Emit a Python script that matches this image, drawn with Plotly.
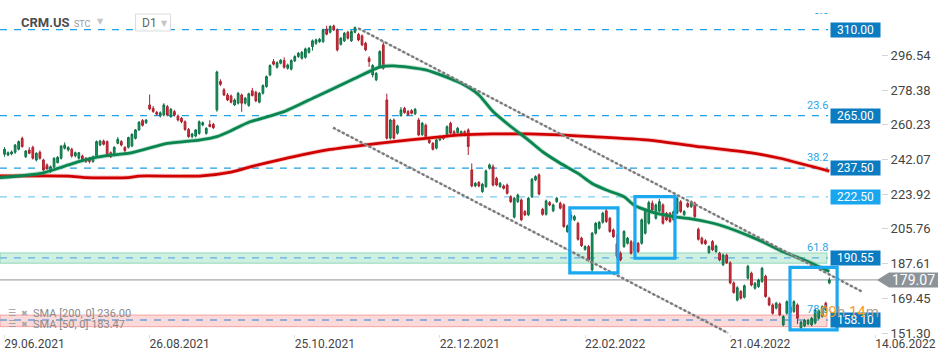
import plotly.graph_objects as go

# ------------------------------------------------------------------ data
bar_open = [
    244.8, 244.4, 245.0, 245.8, 247.4, 253.1, 243.5, 247.0, 248.4, 241.8,
    245.8, 241.8, 239.2, 235.7, 238.0, 240.4, 242.7, 247.9, 247.0, 247.4,
    243.9, 242.7, 243.9, 242.7, 242.7, 241.0, 243.5, 249.6, 251.7, 251.4,
    245.6, 244.4, 250.5, 251.4, 248.4, 248.4, 249.1, 253.1, 257.5, 262.4,
    261.3, 270.6, 268.8, 266.7, 264.8, 265.3, 269.7, 264.5, 267.1, 264.8,
    263.6, 261.8, 257.8, 254.0, 254.3, 255.7, 260.1, 255.7, 260.4, 260.4,
    268.0, 282.8, 278.5, 275.8, 275.3, 270.6, 271.5, 275.8, 271.5, 270.3,
    278.0, 277.2, 272.0, 276.7, 280.2, 286.3, 293.3, 290.3, 292.4, 293.8,
    289.8, 289.3, 293.6, 295.9, 295.0, 295.5, 298.1, 301.1, 302.8, 303.7,
    303.7, 310.3, 308.6, 311.9, 309.8, 302.3, 304.1, 308.6, 304.1, 308.6,
    307.5, 306.7, 302.8, 295.0, 286.3, 283.7, 290.6, 302.0, 273.2, 253.2,
    262.7, 255.8, 265.0, 268.8, 267.1, 267.6, 265.9, 262.7, 255.0, 260.0,
    252.3, 250.5, 248.0, 252.3, 254.0, 254.9, 261.0, 256.6, 256.1, 254.9,
    256.6, 257.5, 236.6, 228.2, 230.0, 225.3, 227.9, 237.5, 238.3, 232.2,
    227.9, 228.2, 228.7, 222.6, 211.9, 220.0, 220.9, 214.8, 213.1, 222.6,
    231.4, 234.0, 216.0, 213.4, 219.5, 215.2, 220.0, 219.2, 218.3, 204.4,
    210.8, 210.5, 208.7, 200.9, 195.0, 196.5, 184.3, 203.5, 206.1, 209.2,
    215.2, 211.3, 205.2, 198.0, 193.0, 196.5, 198.2, 199.0, 194.0, 198.2,
    198.2, 203.5, 208.7, 219.2, 211.3, 215.0, 218.3, 213.9, 213.9, 210.5,
    214.0, 220.0, 213.2, 219.0, 217.4, 219.2, 205.6, 200.9, 199.6, 193.4,
    199.1, 193.9, 193.0, 187.0, 192.0, 188.0, 177.5, 168.5, 173.0, 170.0,
    180.0, 182.6, 174.7, 175.6, 178.2, 181.0, 169.5, 166.0, 164.3, 166.5,
    155.5, 161.6, 165.0, 162.5, 166.0, 154.0, 155.0, 156.0, 155.5, 156.5,
    159.0, 160.0, 166.9, 177.5,
]
bar_high = [
    248.5, 246.3, 246.8, 250.2, 252.0, 254.0, 247.0, 248.5, 249.3, 245.8,
    246.8, 242.5, 240.0, 238.9, 243.2, 243.8, 249.5, 251.0, 248.9, 248.2,
    246.2, 246.0, 244.6, 243.3, 243.4, 244.2, 252.0, 252.4, 252.5, 252.0,
    246.3, 249.0, 253.8, 252.2, 249.0, 254.0, 255.8, 258.0, 262.2, 263.2,
    263.2, 276.0, 270.0, 267.5, 267.2, 271.5, 270.6, 269.0, 268.0, 265.6,
    264.3, 262.5, 258.5, 256.0, 258.0, 262.5, 262.0, 258.9, 262.6, 261.2,
    288.5, 284.0, 279.4, 276.8, 276.0, 274.0, 277.4, 276.5, 274.8, 277.0,
    279.5, 278.0, 277.4, 281.4, 286.0, 291.8, 294.6, 293.4, 294.6, 295.5,
    292.2, 294.5, 296.6, 298.3, 298.8, 300.6, 300.9, 304.8, 305.3, 305.6,
    310.5, 312.0, 312.3, 312.6, 310.6, 306.2, 308.8, 309.4, 309.7, 311.7,
    308.3, 307.5, 303.6, 296.0, 291.9, 287.8, 299.2, 303.5, 276.5, 263.4,
    263.5, 260.3, 269.5, 269.6, 268.0, 268.4, 269.0, 263.8, 261.7, 260.8,
    253.0, 251.2, 253.0, 254.7, 254.8, 259.9, 261.8, 257.4, 259.1, 257.3,
    257.3, 258.3, 240.0, 230.3, 230.8, 229.8, 236.8, 240.0, 239.5, 233.0,
    230.3, 229.0, 229.5, 223.4, 222.5, 224.2, 221.7, 215.6, 222.5, 232.4,
    233.8, 234.8, 216.8, 221.1, 220.3, 219.0, 222.5, 220.0, 219.1, 208.0,
    214.7, 213.0, 209.5, 201.7, 197.2, 197.3, 204.2, 209.4, 209.9, 214.7,
    216.5, 212.0, 206.0, 203.0, 194.0, 205.1, 201.6, 200.0, 199.7, 199.0,
    211.2, 216.4, 220.5, 220.6, 219.0, 221.5, 219.1, 214.6, 214.6, 215.5,
    222.5, 220.8, 215.6, 219.8, 220.7, 220.0, 206.4, 201.7, 200.4, 197.2,
    199.9, 197.5, 193.8, 192.8, 192.8, 188.8, 178.3, 175.8, 173.8, 176.7,
    187.0, 183.4, 178.0, 179.7, 185.9, 181.8, 170.3, 166.8, 167.6, 167.3,
    160.6, 168.4, 165.8, 168.4, 166.8, 157.7, 158.7, 158.7, 159.7, 164.1,
    163.7, 165.8, 167.7, 180.3,
]
bar_low = [
    243.5, 243.8, 244.2, 245.0, 246.8, 248.2, 242.8, 244.8, 242.0, 241.0,
    242.0, 235.8, 236.5, 235.0, 237.5, 240.0, 242.0, 247.3, 246.2, 243.0,
    243.2, 242.0, 241.2, 240.2, 240.0, 240.3, 243.0, 249.0, 249.4, 243.6,
    242.8, 243.8, 250.0, 248.9, 245.5, 247.8, 248.5, 252.5, 257.0, 259.3,
    260.6, 267.8, 266.5, 265.0, 264.0, 264.6, 264.6, 263.8, 264.6, 262.0,
    261.0, 257.0, 253.4, 253.2, 253.6, 255.0, 259.4, 255.0, 259.0, 258.0,
    267.0, 280.5, 275.2, 272.6, 271.4, 270.0, 270.8, 267.0, 270.8, 269.6,
    275.0, 272.0, 271.4, 276.0, 279.6, 285.6, 291.2, 289.6, 291.8, 289.5,
    289.0, 288.6, 293.0, 295.2, 294.3, 294.8, 297.4, 299.0, 302.0, 303.0,
    303.0, 307.0, 308.0, 309.2, 298.5, 301.6, 303.5, 304.8, 303.5, 308.0,
    303.9, 301.3, 298.7, 290.5, 285.0, 283.0, 289.9, 289.0, 252.5, 252.5,
    252.6, 255.0, 264.4, 266.0, 264.8, 265.6, 265.2, 254.2, 254.4, 253.4,
    250.2, 246.8, 247.3, 251.6, 252.3, 254.2, 255.1, 254.2, 255.4, 254.2,
    254.2, 244.4, 227.5, 227.5, 227.5, 224.6, 227.2, 236.8, 228.0, 228.0,
    227.2, 226.3, 223.7, 219.3, 211.2, 219.3, 209.8, 212.4, 212.4, 221.9,
    230.7, 223.3, 212.7, 212.7, 217.6, 214.5, 219.3, 215.9, 206.3, 203.7,
    209.8, 209.8, 199.6, 196.3, 194.3, 188.6, 183.0, 202.8, 205.4, 208.5,
    208.9, 203.7, 201.0, 190.6, 188.8, 195.8, 197.5, 192.3, 193.3, 193.2,
    197.5, 202.8, 208.0, 215.0, 210.6, 214.3, 208.0, 209.8, 208.9, 209.8,
    213.3, 214.1, 212.5, 216.7, 216.7, 211.5, 199.6, 197.5, 197.3, 192.7,
    194.1, 193.2, 188.8, 186.3, 187.4, 176.8, 171.8, 167.8, 168.8, 169.3,
    179.3, 175.7, 174.0, 174.9, 177.5, 169.7, 165.3, 160.9, 163.6, 160.1,
    154.8, 160.9, 161.3, 161.8, 156.0, 152.6, 154.3, 155.3, 154.8, 155.8,
    158.3, 159.3, 162.7, 176.8,
]
bar_close = [
    247.4, 245.6, 246.0, 249.6, 251.4, 248.8, 246.5, 245.3, 242.7, 245.3,
    242.7, 236.6, 237.4, 238.3, 242.7, 243.2, 249.1, 249.6, 248.4, 243.9,
    245.6, 245.6, 241.8, 241.0, 241.0, 243.5, 251.4, 251.7, 250.0, 244.4,
    243.5, 248.4, 252.6, 249.6, 246.7, 253.5, 255.2, 257.5, 261.5, 259.9,
    262.7, 268.5, 267.1, 265.7, 266.5, 270.6, 265.3, 268.3, 265.3, 262.7,
    261.8, 257.8, 254.0, 255.4, 257.5, 261.8, 261.3, 258.4, 259.2, 258.7,
    287.8, 281.4, 275.8, 273.2, 272.0, 273.2, 276.7, 271.5, 274.1, 276.4,
    275.5, 272.7, 276.7, 280.7, 285.4, 291.2, 291.9, 292.7, 294.0, 290.3,
    291.5, 293.8, 295.9, 297.6, 298.1, 299.9, 300.2, 304.1, 304.6, 304.9,
    309.8, 307.6, 311.6, 309.8, 299.4, 305.5, 308.1, 305.5, 309.0, 311.0,
    304.6, 302.0, 299.4, 293.3, 291.2, 287.1, 298.5, 289.8, 253.2, 262.7,
    253.2, 259.6, 268.0, 266.6, 265.4, 266.2, 268.3, 254.9, 261.0, 254.0,
    250.9, 247.4, 252.3, 254.0, 253.0, 259.2, 255.8, 254.9, 258.4, 256.6,
    254.9, 248.8, 228.2, 229.6, 228.2, 229.1, 236.1, 239.2, 228.7, 228.7,
    229.6, 227.0, 224.4, 220.0, 221.8, 223.5, 210.5, 213.1, 221.8, 231.7,
    233.1, 224.0, 213.4, 220.4, 218.3, 218.3, 221.8, 216.6, 207.0, 207.3,
    213.0, 212.2, 200.3, 197.0, 196.5, 189.5, 203.5, 208.7, 209.2, 214.0,
    209.6, 204.4, 201.7, 191.5, 189.5, 204.4, 200.9, 193.0, 199.0, 193.9,
    210.5, 215.7, 219.5, 215.7, 218.3, 220.0, 208.7, 210.5, 209.6, 214.8,
    221.8, 214.8, 214.8, 217.4, 220.0, 212.2, 200.3, 198.2, 198.0, 196.5,
    194.8, 196.8, 189.5, 192.1, 188.0, 177.5, 172.5, 175.0, 169.5, 176.0,
    186.2, 176.4, 177.3, 179.0, 185.2, 170.4, 166.0, 161.6, 166.9, 160.8,
    159.9, 167.7, 162.0, 167.7, 159.0, 157.0, 158.0, 158.0, 159.0, 163.4,
    163.0, 165.0, 163.4, 179.07,
]

x_tick_index = [0, 41, 82, 123, 164, 205, 246]
x_tick_text = ["29.06.2021", "26.08.2021", "25.10.2021", "22.12.2021",
               "22.02.2022", "21.04.2022", "14.06.2022"]
y_tick_vals = [151.30, 169.45, 187.61, 205.76, 223.92, 242.07, 260.23, 278.38, 296.54]

sma50_idx = [-2, 11, 18, 21, 27, 36, 46, 55, 60, 64, 69, 79, 88, 98, 106, 110,
             119, 129, 134, 138, 143, 148, 152, 157, 162, 166, 170, 175, 178,
             184, 189, 194, 202, 213, 220, 227, 233]
sma50_val = [232.4, 235.1, 239.2, 240.9, 243.5, 245.6, 250.5, 252.2, 254.0,
             257.1, 261.5, 267.1, 274.9, 283.6, 290.4, 291.0, 288.9, 281.9,
             275.8, 267.1, 259.3, 252.2, 246.1, 240.1, 234.8, 229.5, 226.1,
             222.6, 218.0, 214.0, 212.2, 211.0, 207.8, 200.0, 193.8, 188.6, 183.47]

sma200_idx = [-2, 18, 23, 35, 38, 55, 64, 70, 78, 84, 92, 100, 110, 119, 129,
              138, 148, 157, 166, 182, 197, 211, 219, 233]
sma200_val = [233.4, 233.4, 232.6, 232.6, 233.4, 233.4, 235.5, 238.5, 242.0,
              244.5, 247.3, 249.2, 251.4, 253.1, 254.9, 255.4, 255.4, 254.9,
              254.0, 252.2, 248.6, 245.5, 242.7, 236.0]

fib_levels = [310.00, 265.00, 237.50, 222.50, 190.55, 158.10]
fib_labels = ["0.0", "23.6", "38.2", "", "61.8", "78.6"]
last_price = 179.07
sma200_last = 236.00
sma50_last = 183.47

zone_green = [187.8, 193.2]
zone_red = [154.6, 160.7]

channel_upper_idx = [99.9, 242.2]
channel_upper_val = [310.7, 173.0]
channel_lower_idx = [92.8, 204.4]
channel_lower_val = [258.7, 151.3]

# cyan highlight boxes: (start bar, end bar, low, high)
box_x0 = [159.7, 178.1, 221.9]
box_x1 = [173.3, 189.4, 235.2]
box_lo = [182.8, 190.4, 152.9]
box_hi = [216.7, 222.6, 185.6]

# ------------------------------------------------------------------ layout geometry
W, H = 949, 359
ML, MR, MT, MB = 0, 68, 13, 25
PW, PH = W - ML - MR, H - MT - MB
X_RANGE = [-1.27, 247.6]
Y_RANGE = [150.78, 318.67]
PX_PER_PRICE = PH / (Y_RANGE[1] - Y_RANGE[0])
FONT = "Roboto"


def pxx(px):
    return px / PW


def pyy(py):
    return (MT + PH - py) / PH


def price_at(py):
    return Y_RANGE[1] - (py - MT) / PX_PER_PRICE


fig = go.Figure()

# candles
fig.add_trace(go.Candlestick(
    x=list(range(len(bar_open))), open=bar_open, high=bar_high, low=bar_low, close=bar_close,
    increasing=dict(line=dict(color="#0d7046", width=1), fillcolor="#1b9a62"),
    decreasing=dict(line=dict(color="#a81f2b", width=1), fillcolor="#dc2e3d"),
    whiskerwidth=0, hoverinfo="skip", showlegend=False,
))

# SMA lines (glow + core)
for idx, val, glow, core in [(sma200_idx, sma200_val, "rgba(230,90,90,0.35)", "#d10000"),
                             (sma50_idx, sma50_val, "rgba(60,170,120,0.35)", "#0a8550")]:
    fig.add_trace(go.Scatter(x=idx, y=val, mode="lines", hoverinfo="skip", showlegend=False,
                             line=dict(color=glow, width=4.5, shape="spline", smoothing=0.6)))
    fig.add_trace(go.Scatter(x=idx, y=val, mode="lines", hoverinfo="skip", showlegend=False,
                             line=dict(color=core, width=2.8, shape="spline", smoothing=0.6)))

# channel lines
for idx, val in [(channel_upper_idx, channel_upper_val), (channel_lower_idx, channel_lower_val)]:
    fig.add_trace(go.Scatter(x=idx, y=val, mode="lines", hoverinfo="skip", showlegend=False,
                             line=dict(color="rgba(190,190,190,0.9)", width=1.2)))
    fig.add_trace(go.Scatter(x=idx, y=val, mode="lines", hoverinfo="skip", showlegend=False,
                             line=dict(color="#7a7a7a", width=2.4, dash="3px,2px")))

# partially clipped "0.0" fib label at top
fig.add_trace(go.Scatter(x=[232.9], y=[price_at(11.5)], mode="text", text=["0.0"],
                         textposition="middle left", hoverinfo="skip", showlegend=False,
                         textfont=dict(family=FONT, size=11, color="#2aa6e8")))

shapes = []
# zones
shapes.append(dict(type="rect", xref="paper", yref="y", x0=0, x1=pxx(827), y0=zone_green[0],
                   y1=zone_green[1], fillcolor="rgba(70,195,140,0.26)",
                   line=dict(color="rgba(70,190,135,0.5)", width=1), layer="below"))
shapes.append(dict(type="rect", xref="paper", yref="y", x0=0, x1=pxx(827), y0=zone_red[0],
                   y1=zone_red[1], fillcolor="rgba(242,120,120,0.28)",
                   line=dict(color="rgba(235,110,110,0.55)", width=1), layer="below"))
# fib lines
fib_line_colors = ["#1f9fe6", "#1f9fe6", "#1f9fe6", "#7ccbf2", "#5fb0e2", "#6f9fd8"]
for lvl, col in zip(fib_levels, fib_line_colors):
    shapes.append(dict(type="line", xref="paper", yref="y", x0=0, x1=pxx(828), y0=lvl, y1=lvl,
                       line=dict(color=col, width=1.3, dash="7px,7px"), layer="below"))
# last price line
shapes.append(dict(type="line", xref="paper", yref="y", x0=0, x1=1, y0=last_price, y1=last_price,
                   line=dict(color="#8d9399", width=1), layer="below"))
# cyan boxes
for a, b, lo, hi in zip(box_x0, box_x1, box_lo, box_hi):
    shapes.append(dict(type="rect", xref="x", yref="y", x0=a, x1=b, y0=lo, y1=hi,
                       line=dict(color="#1aa9ef", width=3.2), fillcolor="rgba(0,0,0,0)", layer="above"))
# price tag arrow for last price
half = 7.5 / PX_PER_PRICE
tag_path = "M {a},{m} L {b},{t} L {c},{t} L {c},{bt} L {b},{bt} Z".format(
    a=pxx(877), b=pxx(889), c=pxx(938), m=last_price, t=last_price + half, bt=last_price - half)
shapes.append(dict(type="path", xref="paper", yref="y", path=tag_path, fillcolor="#8c949a",
                   line=dict(width=0), layer="above"))
# header timeframe box
shapes.append(dict(type="rect", xref="paper", yref="paper", x0=pxx(135.5), x1=pxx(170.5),
                   y0=pyy(31), y1=pyy(14), line=dict(color="#dcdcdc", width=1),
                   fillcolor="rgba(255,255,255,0.9)", layer="above"))

ann = []
# fib percentage labels
for lvl, lab in zip(fib_levels, fib_labels):
    if lab and lab != "0.0":
        ann.append(dict(xref="paper", yref="y", x=pxx(830), y=lvl, yshift=2, text=lab,
                        xanchor="right", yanchor="bottom", showarrow=False,
                        font=dict(family=FONT, size=11, color="#2aa6e8")))
# price level boxes
box_colors = ["#0b7cc1", "#0b7cc1", "#0b7cc1", "#18a6ee", "#0b7cc1", "#0b7cc1"]
for lvl, col in zip(fib_levels, box_colors):
    ann.append(dict(xref="paper", yref="y", x=1, y=lvl, text="%.2f" % lvl, xanchor="right",
                    yanchor="middle", showarrow=False, bgcolor=col, width=49, height=14,
                    borderpad=0, align="center",
                    font=dict(family=FONT, size=12, color="white")))
# last price tag text
ann.append(dict(xref="paper", yref="y", x=pxx(913), y=last_price, text="%.2f" % last_price,
                xanchor="center", yanchor="middle", showarrow=False,
                font=dict(family=FONT, size=14, color="white")))
# countdown
ann.append(dict(xref="paper", yref="paper", x=pxx(818), y=pyy(312), xanchor="left",
                yanchor="middle", showarrow=False,
                text="<span style='color:#f59b25'>09</span><span style='color:#b0a090'>h</span> "
                     "<span style='color:#f59b25'>14</span><span style='color:#b0a090'>m</span>",
                font=dict(family=FONT, size=15, color="#f59b25")))
# header
ann.append(dict(xref="paper", yref="paper", x=pxx(19), y=pyy(22), xanchor="left", yanchor="middle",
                showarrow=False, text="<b>CRM.US</b>", font=dict(family=FONT, size=13, color="#4d4d4d")))
ann.append(dict(xref="paper", yref="paper", x=pxx(72), y=pyy(24), xanchor="left", yanchor="middle",
                showarrow=False, text="STC", font=dict(family=FONT, size=9, color="#9a9a9a")))
ann.append(dict(xref="paper", yref="paper", x=pxx(95), y=pyy(21), xanchor="left", yanchor="middle",
                showarrow=False, text="▼", font=dict(family="DejaVu Sans", size=8, color="#c4c4c4")))
ann.append(dict(xref="paper", yref="paper", x=pxx(140), y=pyy(23), xanchor="left", yanchor="middle",
                showarrow=False, text="D1", font=dict(family=FONT, size=12, color="#666666")))
ann.append(dict(xref="paper", yref="paper", x=pxx(159), y=pyy(23), xanchor="left", yanchor="middle",
                showarrow=False, text="▼", font=dict(family="DejaVu Sans", size=8, color="#c4c4c4")))
# indicator legend
for py, txt in [(313, "SMA [200, 0] %.2f" % sma200_last), (324, "SMA [50, 0] %.2f" % sma50_last)]:
    ann.append(dict(xref="paper", yref="paper", x=pxx(6), y=pyy(py), xanchor="left", yanchor="middle",
                    showarrow=False, text="☰",
                    font=dict(family="DejaVu Sans", size=9, color="#9a9a9a")))
    ann.append(dict(xref="paper", yref="paper", x=pxx(19), y=pyy(py), xanchor="left", yanchor="middle",
                    showarrow=False, text="✖",
                    font=dict(family="DejaVu Sans", size=8, color="#a8a8a8")))
    ann.append(dict(xref="paper", yref="paper", x=pxx(31), y=pyy(py), xanchor="left", yanchor="middle",
                    showarrow=False, text=txt,
                    font=dict(family=FONT, size=11, color="#8a8a8a")))

fig.update_layout(
    width=W, height=H, margin=dict(l=ML, r=MR, t=MT, b=MB, autoexpand=False),
    paper_bgcolor="white", plot_bgcolor="white", showlegend=False,
    shapes=shapes, annotations=ann, hovermode=False,
    font=dict(family=FONT, color="#444444"),
    xaxis=dict(range=X_RANGE, rangeslider=dict(visible=False), showgrid=False, zeroline=False,
               tickmode="array", tickvals=x_tick_index, ticktext=x_tick_text,
               ticks="outside", ticklen=3, tickcolor="#dddddd", ticklabelshift=30,
               ticklabelstandoff=-4,
               tickfont=dict(family=FONT, size=12, color="#444444"), showline=False),
    yaxis=dict(range=Y_RANGE, side="right", showgrid=False, zeroline=False,
               tickmode="array", tickvals=y_tick_vals, ticktext=["%.2f" % v for v in y_tick_vals],
               ticks="outside", ticklen=6, tickcolor="#d4d4d4",
               tickfont=dict(family=FONT, size=13, color="#444444"), showline=False),
)

fig.write_html(
    "out.html",
    config={"displayModeBar": False},
    post_script="document.body.style.margin='0';document.body.style.padding='0';"
                "document.documentElement.style.overflow='hidden';",
)
